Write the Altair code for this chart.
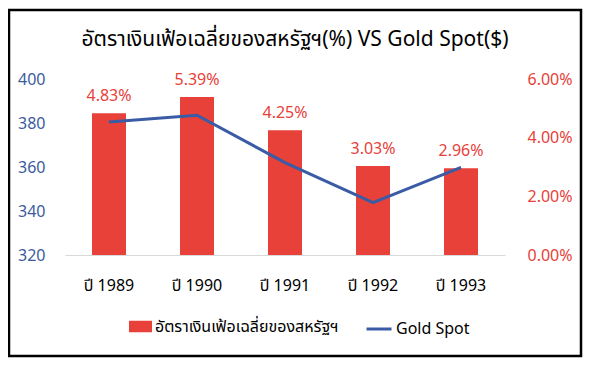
import altair as alt
import pandas as pd

years = ["ปี 1989", "ปี 1990", "ปี 1991", "ปี 1992", "ปี 1993"]
inflation = [0.0483, 0.0539, 0.0425, 0.0303, 0.0296]
gold = [380.5, 383.5, 362.0, 343.8, 359.8]
bar_name = "อัตราเงินเฟ้อเฉลี่ยของสหรัฐฯ"
line_name = "Gold Spot"
title_text = "อัตราเงินเฟ้อเฉลี่ยของสหรัฐฯ(%) VS Gold Spot($)"

RED = "#E8413A"
BLUE = "#3A5BA5"
BLUE_LABEL = "#3B5B9C"
FONT = "Liberation Sans Narrow, Noto Sans Thai, Noto Sans"

df = pd.DataFrame({
    "year": years,
    "inflation": inflation,
    "gold": gold,
    "s1": [bar_name] * len(years),
    "s2": [line_name] * len(years),
})

xenc = alt.X(
    "year:N", sort=years, title=None,
    scale=alt.Scale(paddingInner=0, paddingOuter=0),
    axis=alt.Axis(labelAngle=0, ticks=False, domainColor="#D9D9D9", domainWidth=1,
                  labelColor="#000000", labelFontSize=16, labelPadding=22, labelFont=FONT),
)

right_axis = alt.Axis(orient="right", values=[0, 0.02, 0.04, 0.06], format=".2%", grid=False,
                      ticks=False, domain=False, labelColor=RED, labelFontSize=16,
                      labelPadding=22, labelFont=FONT)

y_right = alt.Y("inflation:Q", title=None,
                scale=alt.Scale(domain=[0, 0.06], nice=False), axis=right_axis)

bars = alt.Chart(df).mark_bar(size=34).encode(
    x=xenc,
    y=y_right,
    color=alt.Color("s1:N", scale=alt.Scale(domain=[bar_name], range=[RED]),
                    legend=alt.Legend(title=None, orient="none", legendX=64, legendY=236,
                                      padding=0, symbolType="M-1,-0.5H1V0.5H-1Z",
                                      symbolSize=529, symbolStrokeWidth=0,
                                      labelFontSize=16, labelFont=FONT, labelColor="#000000",
                                      labelOffset=3, labelLimit=0)),
)

bar_labels = alt.Chart(df).mark_text(baseline="bottom", dy=-9, fontSize=16, font=FONT,
                                     color=RED).encode(
    x=alt.X("year:N", sort=years),
    y=y_right,
    text=alt.Text("inflation:Q", format=".2%"),
)

right_layer = alt.layer(bars, bar_labels)

line = alt.Chart(df).mark_line(strokeWidth=3).encode(
    x=alt.X("year:N", sort=years),
    y=alt.Y("gold:Q", title=None,
            scale=alt.Scale(domain=[320, 400], nice=False),
            axis=alt.Axis(orient="left", values=[320, 340, 360, 380, 400], grid=False,
                          ticks=False, domain=False, labelColor=BLUE_LABEL,
                          labelFontSize=16, labelPadding=20, labelFont=FONT)),
    stroke=alt.Stroke("s2:N", scale=alt.Scale(domain=[line_name], range=[BLUE]),
                      legend=alt.Legend(title=None, orient="none", legendX=300, legendY=236,
                                        padding=0, symbolType="stroke", symbolSize=625,
                                        symbolStrokeWidth=3, labelFontSize=16,
                                        labelFont=FONT, labelColor="#000000", labelOffset=3,
                                        labelLimit=0)),
)

one = pd.DataFrame({"t": [title_text]})

frame = alt.Chart(one).mark_rect(
    fill=None, stroke="#000000", strokeWidth=2.5
).encode(x=alt.value(-56), x2=alt.value(516), y=alt.value(-69), y2=alt.value(277))

title = alt.Chart(one).mark_text(
    fontSize=21, font=FONT, color="#000000", align="center", baseline="middle"
).encode(x=alt.value(230), y=alt.value(-39), text="t:N")

chart = alt.layer(frame, title, right_layer, line).resolve_scale(
    y="independent", color="independent"
).properties(
    width=440, height=176,
    padding={"left": 57, "top": 71, "right": 81, "bottom": 106},
    autosize=alt.AutoSizeParams(type="none"),
).configure_view(stroke=None)

chart.save("out.html", embed_options={"renderer": "svg", "actions": False})
